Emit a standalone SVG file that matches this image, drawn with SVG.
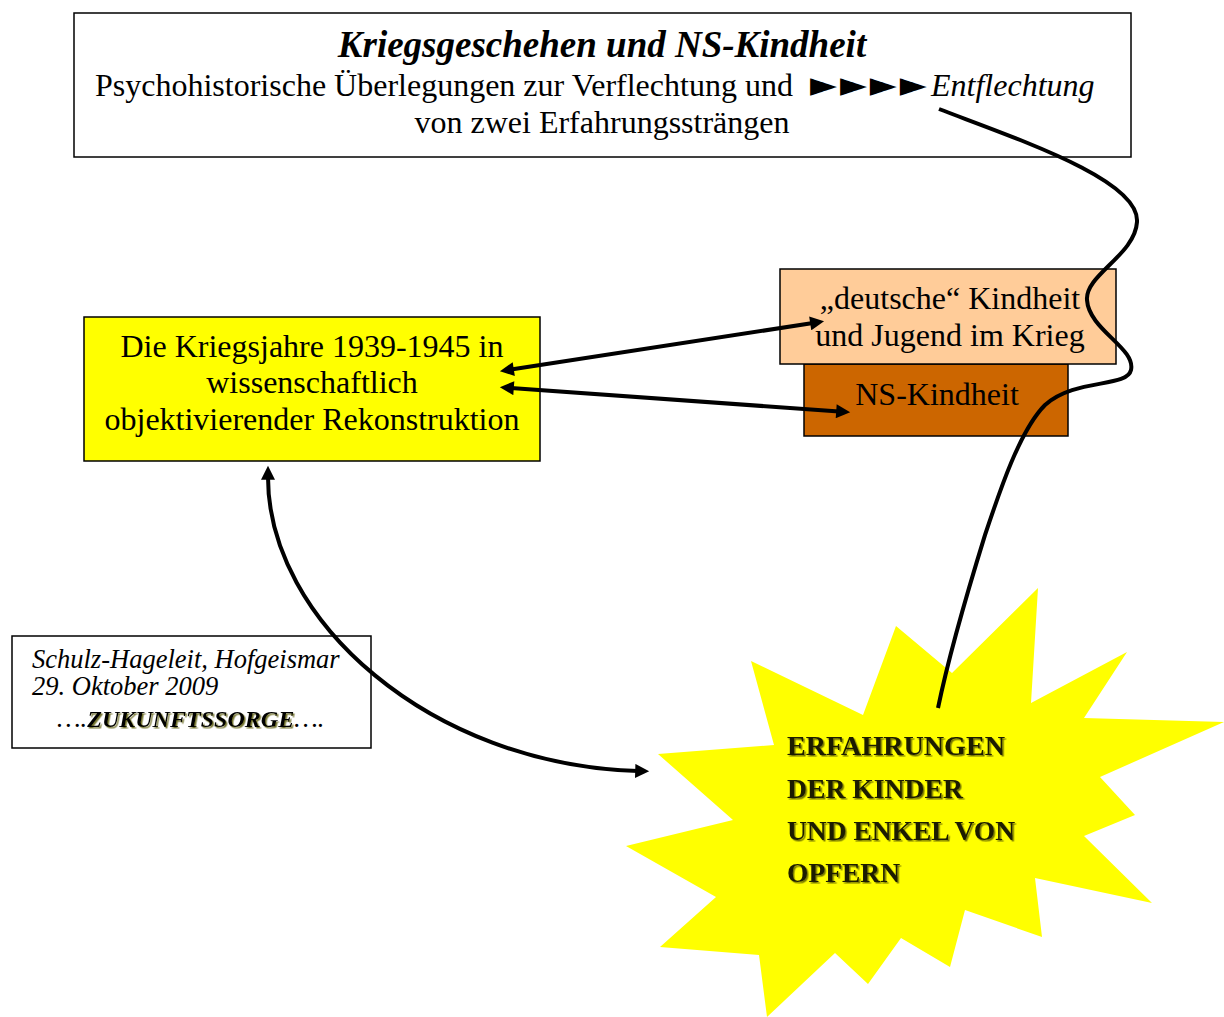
<svg xmlns="http://www.w3.org/2000/svg" width="1224" height="1017" viewBox="0 0 1224 1017">
<style>
.box{stroke:#000;stroke-width:1.5}
.t{font-family:"Liberation Serif","Times New Roman",serif;fill:#000}
.c{text-anchor:middle}
.con{fill:none;stroke:#000;stroke-width:4;stroke-linecap:butt}
.deco{font-family:"Liberation Serif","Times New Roman",serif;font-weight:bold;fill:#1a1a00}
</style>
<defs>
<marker id="ah" viewBox="0 0 10 10" refX="2" refY="5" markerWidth="16" markerHeight="14" markerUnits="userSpaceOnUse" orient="auto-start-reverse">
<path d="M0,0 L10,5 L0,10 Z" fill="#000"/>
</marker>
<filter id="sh" x="-5%" y="-20%" width="110%" height="140%">
<feDropShadow dx="1.5" dy="1.5" stdDeviation="0" flood-color="#555500" flood-opacity="0.8"/>
</filter>
</defs>
<rect width="1224" height="1017" fill="#fff"/>

<g id="title">
<rect class="box" x="74" y="13" width="1057" height="144" fill="#fff"/>
<text class="t c" x="602" y="57" font-size="37" font-weight="bold" font-style="italic">Kriegsgeschehen und NS-Kindheit</text>
<text class="t" x="95" y="96" font-size="32">Psychohistorische Überlegungen zur Verflechtung und <tspan x="810" font-family="DejaVu Sans,sans-serif" font-size="35" letter-spacing="3">►►►►</tspan><tspan x="931" font-style="italic">Entflechtung</tspan></text>
<text class="t c" x="602" y="133" font-size="32">von zwei Erfahrungssträngen</text>
</g>

<g id="kriegsjahre">
<rect class="box" x="84" y="317" width="456" height="144" fill="#ffff00"/>
<text class="t c" x="312" y="357" font-size="32">Die Kriegsjahre 1939-1945 in</text>
<text class="t c" x="312" y="393" font-size="32">wissenschaftlich</text>
<text class="t c" x="312" y="430" font-size="32">objektivierender Rekonstruktion</text>
</g>

<g id="ns-kindheit">
<rect class="box" x="804" y="364" width="264" height="72" fill="#cc6600"/>
<text class="t c" x="937" y="405" font-size="32">NS-Kindheit</text>
</g>

<g id="deutsche-kindheit">
<rect class="box" x="780" y="269" width="336" height="95" fill="#ffcc99"/>
<text class="t c" x="950" y="309" font-size="32">„deutsche“ Kindheit</text>
<text class="t c" x="950" y="346" font-size="32">und Jugend im Krieg</text>
</g>

<g id="autor">
<rect class="box" x="12" y="636" width="359" height="112" fill="#fff"/>
<text class="t" x="32" y="668" font-size="26.5" font-style="italic">Schulz-Hageleit, Hofgeismar</text>
<text class="t" x="32" y="695" font-size="26.5" font-style="italic">29. Oktober 2009</text>
<text class="t" x="57" y="727" font-size="26.5" font-style="italic">….<tspan font-weight="bold" font-size="24" filter="url(#sh)" textLength="207" lengthAdjust="spacingAndGlyphs">ZUKUNFTSSORGE</tspan>….</text>
</g>

<g id="erfahrungen">
<polygon fill="#ffff00" points="751,661 863,715 896,626 952,673 1038,588 1031,703 1127,652 1084,718 1224,722 1100,777 1135,815 1084,836 1152,903 1035,878 1042,937 965,910 950,967 901,938 868,984 835,953 767,1017 759,955 660,947 716,897 626,846 733,820 658,754 774,745"/>
<g filter="url(#sh)">
<text class="deco" x="787" y="755" font-size="28" textLength="218" lengthAdjust="spacingAndGlyphs">ERFAHRUNGEN</text>
<text class="deco" x="787" y="798" font-size="28" textLength="176" lengthAdjust="spacingAndGlyphs">DER KINDER</text>
<text class="deco" x="787" y="840" font-size="28" textLength="228" lengthAdjust="spacingAndGlyphs">UND ENKEL VON</text>
<text class="deco" x="787" y="882" font-size="28" textLength="113" lengthAdjust="spacingAndGlyphs">OPFERN</text>
</g>
</g>

<g id="connectors">
<path class="con" d="M511,369.5 L813,323" marker-start="url(#ah)" marker-end="url(#ah)"/>
<path class="con" d="M511,388 L839,411.5" marker-start="url(#ah)" marker-end="url(#ah)"/>
<path class="con" d="M268,477 C268,620 430,765 638,771" marker-start="url(#ah)" marker-end="url(#ah)"/>
<path class="con" d="M939,109 C1020,140 1140,180 1137,222 C1135,255 1085,275 1087,300 C1089,330 1136,348 1131,370 C1127,388 1075,378 1045,405 C1020,430 1000,490 985,535 C968,590 950,650 938,708"/>
</g>
</svg>
